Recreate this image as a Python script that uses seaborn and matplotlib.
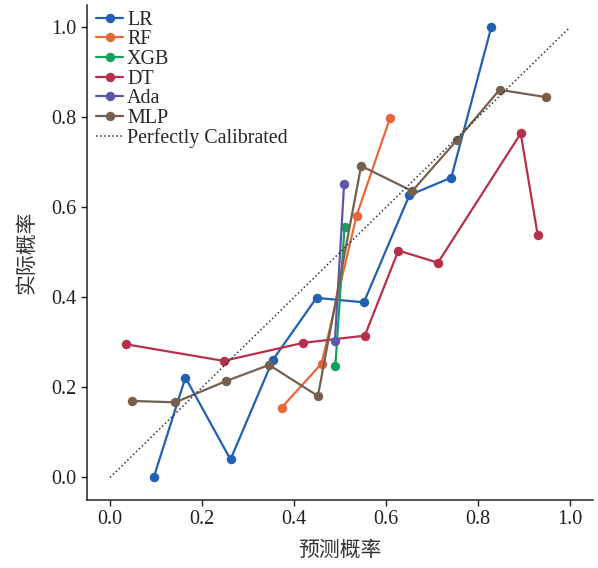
import pandas as pd
import matplotlib
matplotlib.use('Agg')
import matplotlib.pyplot as plt
import seaborn as sns

# calibration curves (mean predicted prob, fraction of positives)
lr_x = [0.095, 0.164, 0.262, 0.354, 0.449, 0.552, 0.651, 0.742, 0.829]
lr_y = [0.000, 0.222, 0.040, 0.261, 0.399, 0.389, 0.627, 0.666, 1.000]

rf_x = [0.373, 0.460, 0.536, 0.609]
rf_y = [0.155, 0.253, 0.581, 0.799]

xgb_x = [0.490, 0.510]
xgb_y = [0.248, 0.557]

dt_x = [0.034, 0.247, 0.420, 0.554, 0.627, 0.713, 0.893, 0.930]
dt_y = [0.296, 0.259, 0.299, 0.315, 0.504, 0.477, 0.764, 0.538]

ada_x = [0.489, 0.509]
ada_y = [0.303, 0.652]

mlp_x = [0.048, 0.142, 0.252, 0.346, 0.452, 0.546, 0.657, 0.755, 0.847, 0.947]
mlp_y = [0.170, 0.167, 0.214, 0.250, 0.181, 0.692, 0.636, 0.750, 0.861, 0.845]

models = ['LR', 'RF', 'XGB', 'DT', 'Ada', 'MLP']
curves = [(lr_x, lr_y), (rf_x, rf_y), (xgb_x, xgb_y), (dt_x, dt_y), (ada_x, ada_y), (mlp_x, mlp_y)]
colors = ['#2160b2', '#e8663a', '#17a05a', '#b5304a', '#5b56ad', '#75604f']

rows = []
for name, (xs, ys) in zip(models, curves):
    for i, (a, b) in enumerate(zip(xs, ys)):
        rows.append({'model': name, 'order': i, 'pred': a, 'true': b})
df = pd.DataFrame(rows)

sns.set_style('ticks')
plt.rcParams['font.family'] = ['Liberation Serif', 'Noto Sans CJK SC']
cjk = ['Noto Sans CJK SC', 'DejaVu Sans']

fig = plt.figure(figsize=(5.98, 5.68), dpi=100)
ax = fig.add_axes([0.1455, 0.1197, 0.846, 0.872])

sns.lineplot(data=df, x='pred', y='true', hue='model', hue_order=models,
             palette=dict(zip(models, colors)), sort=False, estimator=None,
             marker='o', markersize=6.8, markeredgewidth=0, linewidth=1.6, ax=ax)
ax.plot([0, 1], [0, 1], linestyle=':', color='#333333', linewidth=1.1, label='Perfectly Calibrated')

ax.set_xlim(-0.05, 1.05)
ax.set_ylim(-0.05, 1.05)
ax.set_xticks([0.0, 0.2, 0.4, 0.6, 0.8, 1.0])
ax.set_yticks([0.0, 0.2, 0.4, 0.6, 0.8, 1.0])
ax.tick_params(labelsize=14.5, length=4, width=1, colors='#222222')
sns.despine(ax=ax)
for s in ['left', 'bottom']:
    ax.spines[s].set_color('#222222')
    ax.spines[s].set_linewidth(1.1)

ax.set_xlabel('预测概率', family=cjk, fontsize=15, color='#333333', labelpad=7)
ax.set_ylabel('实际概率', family=cjk, fontsize=15, color='#333333', labelpad=10)

ax.legend(loc='upper left', bbox_to_anchor=(0.006, 1.0), frameon=False, fontsize=14.4,
          labelspacing=0.03, handlelength=1.35, handletextpad=0.2,
          borderaxespad=0.1, borderpad=0.2)

fig.savefig('out.png', dpi=100)
